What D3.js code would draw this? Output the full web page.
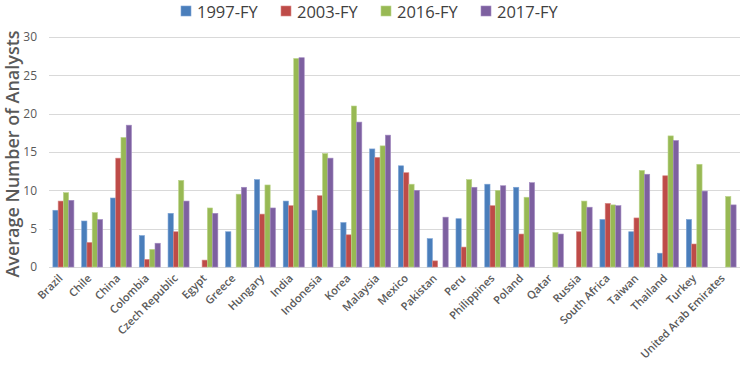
<!DOCTYPE html>
<html>
<head>
<meta charset="utf-8">
<script src="https://cdn.jsdelivr.net/npm/d3@7/dist/d3.min.js"></script>
<style>
  body { margin: 0; background: #fff; }
  svg { display: block; font-family: "Open Sans", "Noto Sans", sans-serif; }
  .grid line { stroke: #d9d9d9; stroke-width: 1; }
  .tick-label { fill: #595959; font-size: 12px; }
  .cat-label { fill: #595959; font-size: 11px; font-weight: 600; }
  .legend-text { fill: #404040; font-size: 16.5px; }
  .axis-title { fill: #595959; font-size: 18px; font-weight: 600; }
</style>
</head>
<body>
<div id="chart"></div>
<script>
const countries = ['Brazil', 'Chile', 'China', 'Colombia', 'Czech Republic', 'Egypt', 'Greece',
  'Hungary', 'India', 'Indonesia', 'Korea', 'Malaysia', 'Mexico', 'Pakistan', 'Peru',
  'Philippines', 'Poland', 'Qatar', 'Russia', 'South Africa', 'Taiwan', 'Thailand', 'Turkey',
  'United Arab Emirates'];

const seriesNames = ['1997-FY', '2003-FY', '2016-FY', '2017-FY'];

// null = no bar for that year
const fy1997 = [7.4, 6.0, 9.0, 4.1, 7.0, null, 4.6, 11.4, 8.6, 7.4, 5.8, 15.4, 13.2, 3.7, 6.3,
  10.8, 10.4, null, null, 6.2, 4.6, 1.8, 6.2, null];
const fy2003 = [8.6, 3.2, 14.2, 1.0, 4.6, 0.9, null, 6.9, 8.0, 9.3, 4.2, 14.3, 12.3, 0.8, 2.6,
  8.0, 4.3, null, 4.6, 8.3, 6.4, 11.9, 3.0, null];
const fy2016 = [9.7, 7.1, 16.9, 2.3, 11.3, 7.7, 9.5, 10.7, 27.2, 14.8, 21.0, 15.8, 10.8, null, 11.4,
  10.0, 9.1, 4.5, 8.6, 8.1, 12.6, 17.1, 13.4, 9.2];
const fy2017 = [8.7, 6.2, 18.5, 3.1, 8.6, 7.0, 10.4, 7.7, 27.3, 14.2, 18.9, 17.2, 10.0, 6.5, 10.4,
  10.6, 11.0, 4.3, 7.8, 8.0, 12.1, 16.5, 9.9, 8.1];

const yTicks = [0, 5, 10, 15, 20, 25, 30];
const colors = ['#4a7ebb', '#be4b48', '#98b954', '#7d60a0'];
const strokes = ['#7ea4d6', '#d98a88', '#bcd58c', '#a38bc2'];

const width = 743;
const height = 368;
const margin = { top: 37, right: 3, bottom: 101, left: 49 };

const svg = d3.select('#chart').append('svg')
  .attr('width', width)
  .attr('height', height);

const x = d3.scaleBand()
  .domain(countries)
  .range([margin.left, width - margin.right])
  .paddingInner(0.27)
  .paddingOuter(0.135);

const xSub = d3.scaleBand()
  .domain(seriesNames)
  .range([0, x.bandwidth()]);

const y = d3.scaleLinear()
  .domain([0, 30])
  .range([height - margin.bottom, margin.top]);

// gridlines
svg.append('g')
  .attr('class', 'grid')
  .selectAll('line')
  .data(yTicks)
  .join('line')
  .attr('x1', margin.left)
  .attr('x2', width - margin.right)
  .attr('y1', d => Math.round(y(d)) + 0.5)
  .attr('y2', d => Math.round(y(d)) + 0.5);

// y tick labels
svg.append('g')
  .selectAll('text')
  .data(yTicks)
  .join('text')
  .attr('class', 'tick-label')
  .attr('x', 37)
  .attr('y', d => y(d))
  .attr('dy', '0.35em')
  .attr('text-anchor', 'end')
  .text(d => d);

const rows = countries.map((c, i) => ({
  country: c,
  values: [fy1997[i], fy2003[i], fy2016[i], fy2017[i]]
}));

const groups = svg.append('g')
  .selectAll('g')
  .data(rows)
  .join('g')
  .attr('transform', d => `translate(${x(d.country)},0)`);

groups.selectAll('rect')
  .data(d => d.values.map((v, k) => ({ key: seriesNames[k], k, v })).filter(e => e.v !== null))
  .join('rect')
  .attr('x', d => xSub(d.key))
  .attr('width', xSub.bandwidth())
  .attr('y', d => y(d.v))
  .attr('height', d => y(0) - y(d.v))
  .attr('fill', d => colors[d.k])
  .attr('stroke', d => strokes[d.k])
  .attr('stroke-width', 0.6);

// category labels
svg.append('g')
  .selectAll('text')
  .data(countries)
  .join('text')
  .attr('class', 'cat-label')
  .attr('text-anchor', 'end')
  .attr('transform', d => `translate(${x(d) + x.bandwidth() / 2},${y(0) + 12}) rotate(-45)`)
  .text(d => d);

// y axis title
svg.append('text')
  .attr('class', 'axis-title')
  .attr('transform', `translate(19,${(margin.top + y(0)) / 2 + 2}) rotate(-90)`)
  .attr('text-anchor', 'middle')
  .text('Average Number of Analysts');

// legend
const legend = svg.append('g')
  .selectAll('g')
  .data(seriesNames)
  .join('g')
  .attr('transform', (d, i) => `translate(${181 + i * 100},6)`);

legend.append('rect')
  .attr('width', 10)
  .attr('height', 10)
  .attr('fill', (d, i) => colors[i])
  .attr('stroke', (d, i) => strokes[i])
  .attr('stroke-width', 0.6);

legend.append('text')
  .attr('class', 'legend-text')
  .attr('x', 16)
  .attr('y', 11.5)
  .text(d => d);
</script>
</body>
</html>
